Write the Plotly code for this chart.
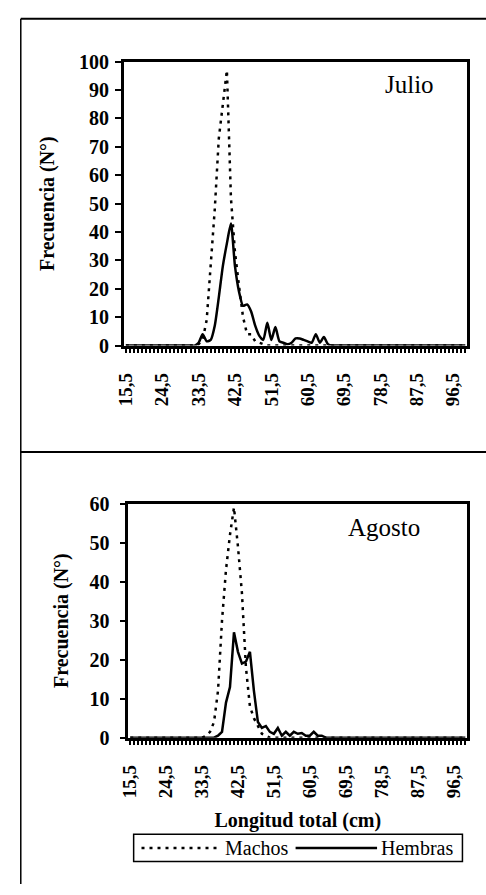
import plotly.graph_objects as go

# Length classes (cm), one per 1 cm bin: 15.5 ... 99.5
longitudes = [15.5 + i for i in range(85)]

# Axis tick labels (decimal comma)
tick_labels = ["15,5", "24,5", "33,5", "42,5", "51,5", "60,5", "69,5", "78,5", "87,5", "96,5"]
tick_vals = [float(t.replace(",", ".")) for t in tick_labels]

# Frequencies (N°) per length class, July
machos_julio = [
    0, 0, 0, 0, 0, 0, 0, 0, 0, 0,            # 15.5-24.5
    0, 0, 0, 0, 0, 0, 0, 0, 0.5, 2,          # 25.5-34.5
    9, 27, 48, 73, 85, 97, 52, 33, 21, 10,   # 35.5-44.5
    4, 4, 1.5, 1, 0.5, 0, 0, 0, 0, 0,        # 45.5-54.5
    0, 0, 0, 0, 0, 0, 0, 0, 0, 0,            # 55.5-64.5
    0, 0, 0, 0, 0, 0, 0, 0, 0, 0,            # 65.5-74.5
    0, 0, 0, 0, 0, 0, 0, 0, 0, 0,            # 75.5-84.5
    0, 0, 0, 0, 0, 0, 0, 0, 0, 0,            # 85.5-94.5
    0, 0, 0, 0, 0,                           # 95.5-99.5
]
hembras_julio = [
    0, 0, 0, 0, 0, 0, 0, 0, 0, 0,
    0, 0, 0, 0, 0, 0, 0, 0, 1, 4,
    1.5, 2, 7, 17, 28, 36, 43, 28, 19, 14,
    14.5, 12, 7, 3.5, 2, 8, 2, 6.5, 1.5, 1,
    0.5, 1, 2.5, 2.5, 2, 1.5, 1, 4, 1, 3,
    0.5, 0, 0, 0, 0, 0, 0, 0, 0, 0,
    0, 0, 0, 0, 0, 0, 0, 0, 0, 0,
    0, 0, 0, 0, 0, 0, 0, 0, 0, 0,
    0, 0, 0, 0, 0,
]

# Frequencies (N°) per length class, August
machos_agosto = [
    0, 0, 0, 0, 0, 0, 0, 0, 0, 0,
    0, 0, 0, 0, 0, 0, 0, 0, 0, 0.5,
    1.5, 4, 12, 30, 43, 52, 59, 49, 37, 18,
    8, 5, 3, 1, 0.5, 0, 0, 0, 0, 0,
    0, 0, 0, 0, 0, 0, 0, 0, 0, 0,
    0, 0, 0, 0, 0, 0, 0, 0, 0, 0,
    0, 0, 0, 0, 0, 0, 0, 0, 0, 0,
    0, 0, 0, 0, 0, 0, 0, 0, 0, 0,
    0, 0, 0, 0, 0,
]
hembras_agosto = [
    0, 0, 0, 0, 0, 0, 0, 0, 0, 0,
    0, 0, 0, 0, 0, 0, 0, 0, 0, 0,
    0, 0, 0.5, 1.5, 9, 13, 27, 22, 19, 19.5,
    22, 12, 4, 2.5, 3, 1.5, 1, 2.5, 0.5, 1.5,
    0.5, 1.5, 1, 1.2, 0.5, 0.5, 1.5, 0.5, 0.5, 0,
    0, 0, 0, 0, 0, 0, 0, 0, 0, 0,
    0, 0, 0, 0, 0, 0, 0, 0, 0, 0,
    0, 0, 0, 0, 0, 0, 0, 0, 0, 0,
    0, 0, 0, 0, 0,
]

W, H = 486, 895
SERIF = "'Liberation Serif', 'Times New Roman', 'DejaVu Serif', serif"
DOT = "3px,5px"


def fx(p):
    return p / W


def fy(p):
    return 1 - p / H


line_m = dict(color="black", width=2.5, dash=DOT)
line_h = dict(color="black", width=2.5)

fig = go.Figure()
fig.add_trace(go.Scatter(x=longitudes, y=machos_julio, mode="lines", name="Machos",
                         line=line_m, xaxis="x", yaxis="y", showlegend=False))
fig.add_trace(go.Scatter(x=longitudes, y=hembras_julio, mode="lines", name="Hembras",
                         line=dict(line_h, shape="spline", smoothing=0.6),
                         xaxis="x", yaxis="y", showlegend=False))
fig.add_trace(go.Scatter(x=longitudes, y=machos_agosto, mode="lines", name="Machos",
                         line=line_m, xaxis="x2", yaxis="y2", showlegend=False))
fig.add_trace(go.Scatter(x=longitudes, y=hembras_agosto, mode="lines", name="Hembras",
                         line=line_h, xaxis="x2", yaxis="y2", showlegend=False))

tick_font = dict(family=SERIF, size=19, color="black", weight="bold")
title_font = dict(family=SERIF, size=20, color="black", weight="bold")
XRANGE = [15, 100]


def x_axis(domain, anchor):
    return dict(
        domain=domain, anchor=anchor, range=XRANGE, tickmode="array",
        tickvals=tick_vals, ticktext=tick_labels, tickangle=-90,
        ticks="outside", ticklen=5, tickwidth=1.5, tickcolor="black",
        minor=dict(tickmode="linear", tick0=15.5, dtick=1, ticks="outside",
                   ticklen=5, tickwidth=1.5, tickcolor="black"),
        ticklabelstandoff=12, tickfont=tick_font,
        showline=True, mirror=True, linewidth=2.5, linecolor="black",
        showgrid=False, zeroline=False, fixedrange=True,
    )


def x_inner(over, anchor, domain):
    return dict(
        overlaying=over, anchor=anchor, domain=domain, range=XRANGE,
        tickmode="linear", tick0=15.5, dtick=1, ticks="inside", ticklen=5,
        tickwidth=1.5, tickcolor="black", showticklabels=False,
        showline=False, showgrid=False, zeroline=False, fixedrange=True,
    )


def y_axis(domain, anchor, ymax, standoff, label_gap):
    return dict(
        domain=domain, anchor=anchor, range=[0, ymax], tickmode="linear",
        tick0=0, dtick=10, ticks="outside", ticklen=6, tickwidth=1.5,
        tickcolor="black", tickfont=dict(tick_font, size=20),
        ticklabelstandoff=label_gap,
        title=dict(text="Frecuencia (N°)", font=title_font, standoff=standoff),
        showline=True, mirror=True, linewidth=2.5, linecolor="black",
        showgrid=False, zeroline=False, fixedrange=True,
    )


def y_inner(over, anchor, domain, ymax):
    return dict(
        overlaying=over, anchor=anchor, domain=domain, range=[0, ymax],
        tickmode="linear", tick0=0, dtick=10, ticks="inside", ticklen=6,
        tickwidth=1.5, tickcolor="black", showticklabels=False,
        showline=False, showgrid=False, zeroline=False, fixedrange=True,
    )


top_x = [fx(117), fx(467)]
top_y = [fy(343), fy(52)]
bot_x = [fx(121.5), fx(467)]
bot_y = [fy(745), fy(505)]

xa2 = x_axis(bot_x, "y2")
xa2["title"] = dict(text="Longitud total (cm)", font=title_font, standoff=16)

shapes = [
    # panel frame and divider
    dict(type="line", xref="paper", yref="paper", x0=fx(12), x1=fx(12), y0=fy(8), y1=fy(895),
         line=dict(color="black", width=1.5)),
    dict(type="line", xref="paper", yref="paper", x0=fx(12), x1=1, y0=fy(8), y1=fy(8),
         line=dict(color="black", width=2)),
    dict(type="line", xref="paper", yref="paper", x0=fx(12), x1=1, y0=fy(452), y1=fy(452),
         line=dict(color="black", width=2)),
    # legend box and keys
    dict(type="rect", xref="paper", yref="paper", x0=fx(127), x1=fx(462), y0=fy(872), y1=fy(844),
         line=dict(color="black", width=1.5), fillcolor="white"),
    dict(type="line", xref="paper", yref="paper", x0=fx(135), x1=fx(216), y0=fy(858), y1=fy(858),
         line=dict(color="black", width=2.5, dash=DOT)),
    dict(type="line", xref="paper", yref="paper", x0=fx(292), x1=fx(375), y0=fy(858), y1=fy(858),
         line=dict(color="black", width=2.5)),
]

annotations = [
    dict(text="Julio", xref="paper", yref="paper", x=fx(408), y=fy(75), showarrow=False,
         xanchor="center", yanchor="middle", font=dict(family=SERIF, size=25, color="black")),
    dict(text="Agosto", xref="paper", yref="paper", x=fx(382), y=fy(530), showarrow=False,
         xanchor="center", yanchor="middle", font=dict(family=SERIF, size=25, color="black")),
    dict(text="Machos", xref="paper", yref="paper", x=fx(218), y=fy(858), showarrow=False,
         xanchor="left", yanchor="middle", font=dict(family=SERIF, size=20, color="black")),
    dict(text="Hembras", xref="paper", yref="paper", x=fx(377), y=fy(858), showarrow=False,
         xanchor="left", yanchor="middle", font=dict(family=SERIF, size=20, color="black")),
]

fig.update_layout(
    width=W, height=H, autosize=False,
    margin=dict(l=0, r=0, t=0, b=0),
    paper_bgcolor="white", plot_bgcolor="white",
    font=dict(family=SERIF, color="black"),
    separators=",.",
    showlegend=False,
    xaxis=x_axis(top_x, "y"),
    yaxis=y_axis(top_y, "x", 100, 20, 2),
    xaxis2=xa2,
    yaxis2=y_axis(bot_y, "x2", 60, 16, 6),
    xaxis3=x_inner("x", "y", top_x),
    yaxis3=y_inner("y", "x", top_y, 100),
    xaxis4=x_inner("x2", "y2", bot_x),
    yaxis4=y_inner("y2", "x2", bot_y, 60),
    shapes=shapes,
    annotations=annotations,
)

fig.write_html("out.html")
